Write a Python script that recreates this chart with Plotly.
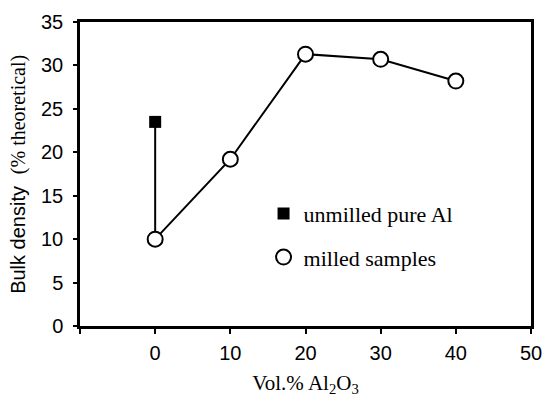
import plotly.graph_objects as go

# Data
milled_x = [0, 10, 20, 30, 40]
milled_y = [10.0, 19.2, 31.3, 30.7, 28.2]
unmilled_x = [0]
unmilled_y = [23.5]

x_tick_vals = [-10, 0, 10, 20, 30, 40, 50]
x_tick_text = ["", "0", "10", "20", "30", "40", "50"]
y_tick_vals = [0, 5, 10, 15, 20, 25, 30, 35]

SANS = "Liberation Sans, Arial, sans-serif"
SERIF = "Liberation Serif, Times New Roman, serif"

fig = go.Figure()

# connector from unmilled to milled point at 0
fig.add_trace(go.Scatter(
    x=[unmilled_x[0], milled_x[0]], y=[unmilled_y[0], milled_y[0]],
    mode="lines", line=dict(color="black", width=2), showlegend=False, hoverinfo="skip"))
# milled line
fig.add_trace(go.Scatter(
    x=milled_x, y=milled_y, mode="lines",
    line=dict(color="black", width=2), showlegend=False, hoverinfo="skip"))
# unmilled marker
fig.add_trace(go.Scatter(
    x=unmilled_x, y=unmilled_y, mode="markers", name="unmilled pure Al",
    legendgroup="a",
    marker=dict(symbol="square", size=12, color="black", line=dict(color="black", width=0))))
# milled markers
fig.add_trace(go.Scatter(
    x=milled_x, y=milled_y, mode="markers", name="milled samples",
    legendgroup="b",
    marker=dict(symbol="circle", size=15, color="white", line=dict(color="black", width=2))))

# y-axis title in two fonts (sans + serif), as in the reference
fig.add_annotation(
    text="Bulk density", textangle=-90, showarrow=False,
    xref="paper", yref="paper", x=-0.136, y=0.098,
    xanchor="center", yanchor="bottom",
    font=dict(family=SANS, size=20, color="black"))
fig.add_annotation(
    text="(% theoretical)", textangle=-90, showarrow=False,
    xref="paper", yref="paper", x=-0.136, y=0.898,
    xanchor="center", yanchor="top",
    font=dict(family=SERIF, size=20, color="black"))

fig.update_layout(
    width=553, height=403,
    margin=dict(l=80, r=11, t=15, b=77),
    paper_bgcolor="white", plot_bgcolor="white",
    font=dict(family=SANS, color="black", size=20),
    legend=dict(
        x=0.407, y=0.297, xanchor="left", yanchor="middle",
        font=dict(family=SERIF, size=22, color="black"),
        bgcolor="rgba(0,0,0,0)", borderwidth=0,
        traceorder="grouped", tracegroupgap=12,
    ),
    xaxis=dict(
        range=[-10, 50], tickvals=x_tick_vals, ticktext=x_tick_text,
        showline=True, linecolor="black", linewidth=2.5, mirror=True,
        ticks="outside", ticklen=5, tickwidth=1.5, tickcolor="black",
        showgrid=False, zeroline=False,
        tickfont=dict(family=SANS, size=20),
        ticklabelstandoff=2,
        title=dict(text="Vol.% Al<sub>2</sub>O<sub>3</sub>",
                   font=dict(family=SERIF, size=21), standoff=13),
    ),
    yaxis=dict(
        range=[0, 35], tickvals=y_tick_vals,
        showline=True, linecolor="black", linewidth=2.5, mirror=True,
        ticks="outside", ticklen=4, tickwidth=1.5, tickcolor="black",
        showgrid=False, zeroline=False,
        tickfont=dict(family=SANS, size=20),
        ticklabelstandoff=6,
    ),
)

fig.write_html("out.html")
